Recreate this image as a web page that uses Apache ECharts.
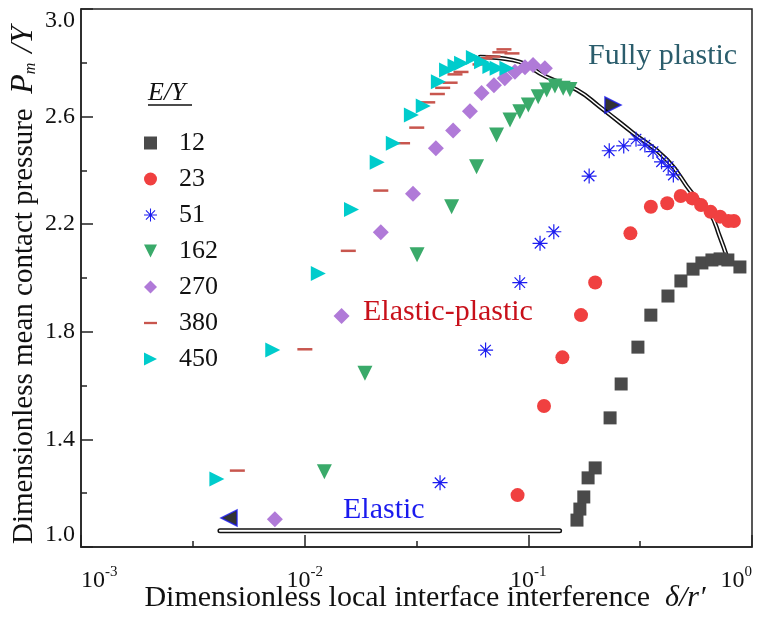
<!DOCTYPE html>
<html>
<head>
<meta charset="utf-8">
<script src="https://cdn.jsdelivr.net/npm/echarts@6/dist/echarts.min.js"></script>
<style>
  html, body { margin: 0; padding: 0; background: #fff; }
  #chart { width: 759px; height: 617px; }
</style>
</head>
<body>
<div id="chart"></div>
<script>
// 数据 (δ/r', Pm/Y)
const seriesNames = ['12', '23', '51', '162', '270', '380', '450'];
const ey12 = [[0.165, 1.100], [0.170, 1.141], [0.177, 1.186], [0.185, 1.257], [0.199, 1.294], [0.232, 1.480],
    [0.260, 1.606], [0.309, 1.743], [0.353, 1.862], [0.421, 1.933], [0.481, 1.989], [0.545, 2.033],
    [0.597, 2.056], [0.662, 2.067], [0.720, 2.071], [0.780, 2.067], [0.883, 2.041]];
const ey23 = [[0.0895, 1.193], [0.1175, 1.524], [0.142, 1.705], [0.172, 1.862], [0.199, 1.983], [0.286, 2.166],
    [0.353, 2.265], [0.418, 2.278], [0.480, 2.305], [0.541, 2.296], [0.592, 2.271], [0.653, 2.246],
    [0.720, 2.228], [0.784, 2.212], [0.830, 2.212]];
const ey51 = [[0.0403, 1.239], [0.0644, 1.732], [0.0916, 1.983], [0.1128, 2.129], [0.130, 2.172], [0.187, 2.379],
    [0.230, 2.473], [0.267, 2.491], [0.303, 2.516], [0.332, 2.494], [0.361, 2.470], [0.394, 2.432],
    [0.422, 2.414], [0.445, 2.383]];
const ey162 = [[0.01225, 1.280], [0.0186, 1.646], [0.0318, 2.086], [0.0454, 2.265], [0.0587, 2.414], [0.0721, 2.532],
    [0.0828, 2.587], [0.0916, 2.618], [0.100, 2.643], [0.1107, 2.674], [0.1208, 2.699], [0.1315, 2.714],
    [0.1432, 2.705], [0.1535, 2.701]];
const ey270 = [[0.00736, 1.103], [0.01462, 1.859], [0.0219, 2.170], [0.0305, 2.313], [0.0386, 2.482], [0.0461, 2.548],
    [0.0548, 2.620], [0.0618, 2.688], [0.0702, 2.717], [0.0785, 2.743], [0.0871, 2.767], [0.0966, 2.783],
    [0.105, 2.792], [0.1186, 2.780]];
const ey380 = [[0.00500, 1.284], [0.01002, 1.735], [0.01567, 2.101], [0.0219, 2.325], [0.0274, 2.501], [0.0317, 2.559],
    [0.0355, 2.653], [0.0392, 2.684], [0.0414, 2.707], [0.0447, 2.726], [0.0470, 2.757], [0.0500, 2.766],
    [0.0608, 2.794], [0.0640, 2.817], [0.0695, 2.823], [0.0746, 2.839], [0.0778, 2.850], [0.0845, 2.835]];
const ey450 = [[0.00405, 1.253], [0.00720, 1.732], [0.01151, 2.017], [0.0162, 2.255], [0.0211, 2.430], [0.0249, 2.501],
    [0.0300, 2.606], [0.0339, 2.639], [0.0396, 2.730], [0.0431, 2.773], [0.0470, 2.788], [0.0503, 2.798],
    [0.0568, 2.820], [0.0618, 2.804], [0.0673, 2.786], [0.0725, 2.780], [0.0802, 2.780]];

// 拟合曲线
const plasticX = [0.0608, 0.0853, 0.121, 0.165, 0.209, 0.294, 0.417, 0.539, 0.648, 0.719, 0.773];
const plasticY = [2.822, 2.810, 2.747, 2.699, 2.636, 2.539, 2.439, 2.316, 2.242, 2.152, 2.078];
const elasticX = [0.00418, 0.138];
const elasticY = [1.06, 1.06];
const endLeft = [0.00459, 1.108];
const endRight = [0.239, 2.643];

const FONT = 'Liberation Serif';
const asterisk = 'path://M9.2 0H10.8V20H9.2Z M0 9.2H20V10.8H0Z M3.57 2.43L17.57 16.43L16.43 17.57L2.43 3.57Z M17.57 3.57L3.57 17.57L2.43 16.43L16.43 2.43Z';
const dash = 'path://M0 0H14V2.5H0Z';
const triDown = 'path://M0 0H10L5 10Z';
const triRight = 'path://M0 0L10 5L0 10Z';

function zip(xs, ys) {
    return xs.map((x, i) => [x, ys[i]]);
}

function scatter(name, data, symbol, size, color, rotate) {
    return {
        name: name,
        type: 'scatter',
        data: data,
        symbol: symbol,
        symbolSize: size,
        symbolRotate: rotate || 0,
        itemStyle: { color: color, opacity: 1 },
        z: 5
    };
}

function doubleLine(data, outer, inner) {
    return [
        {
            type: 'line', data: data, smooth: true, symbol: 'none', silent: true, z: 2,
            lineStyle: { color: '#111', width: outer, cap: 'round' }
        },
        {
            type: 'line', data: data, smooth: true, symbol: 'none', silent: true, z: 3,
            lineStyle: { color: '#fff', width: inner, cap: 'round' }
        }
    ];
}

const chart = echarts.init(document.getElementById('chart'));

const option = {
    backgroundColor: '#fff',
    animation: false,
    grid: {
        left: 81, right: 7, top: 9, bottom: 70,
        outerBoundsMode: 'none',
        containLabel: false,
        show: true, borderColor: '#222', borderWidth: 1.5, backgroundColor: 'transparent'
    },
    legend: {
        orient: 'vertical',
        left: 144,
        top: 130,
        padding: 0,
        itemWidth: 13,
        itemHeight: 13,
        itemGap: 10,
        data: [
            { name: '12' }, { name: '23' }, { name: '51' },
            { name: '162', icon: triDown },
            { name: '270' }, { name: '380' },
            { name: '450', icon: triRight }
        ],
        textStyle: {
            fontFamily: FONT, fontSize: 26, lineHeight: 26, color: '#111',
            padding: [0, 0, 0, 17]
        }
    },
    xAxis: [
        {
            type: 'log',
            logBase: 10,
            min: 0.001,
            max: 1,
            position: 'bottom',
            axisLine: { onZero: false, lineStyle: { color: '#222', width: 1.5 } },
            axisTick: { inside: true, length: 12, lineStyle: { color: '#222', width: 1.5 } },
            splitLine: { show: false },
            axisLabel: {
                margin: 18,
                alignMinLabel: 'left',
                alignMaxLabel: 'right',
                formatter: function (v) {
                    const e = Math.round(Math.log10(v));
                    return '{b|10}{s|' + e + '}';
                },
                rich: {
                    b: { fontFamily: FONT, fontSize: 24, color: '#111' },
                    s: { fontFamily: FONT, fontSize: 15, color: '#111', padding: [0, 0, 16, 0] }
                }
            },
            name: 'Dimensionless local interface interference  {i|δ/r′}',
            nameLocation: 'middle',
            nameGap: 36,
            nameMoveOverlap: false,
            nameTextStyle: {
                fontFamily: FONT, fontSize: 30, color: '#111',
                padding: [0, 0, 0, 17],
                rich: {
                    i: { fontFamily: FONT, fontSize: 30, fontStyle: 'italic', color: '#111' }
                }
            }
        },
        {
            // 半个数量级的小刻度
            type: 'value',
            min: -3,
            max: 0,
            interval: 0.5,
            position: 'bottom',
            axisLine: { show: false, onZero: false },
            axisLabel: { show: false },
            splitLine: { show: false },
            axisTick: { inside: true, length: 6, lineStyle: { color: '#222', width: 1.5 } }
        }
    ],
    yAxis: {
        type: 'value',
        min: 1.0,
        max: 3.0,
        interval: 0.4,
        position: 'left',
        axisLine: { show: true, onZero: false, lineStyle: { color: '#222', width: 1.5 } },
        axisTick: { show: true, inside: true, length: 12, lineStyle: { color: '#222', width: 1.5 } },
        minorTick: { show: true, splitNumber: 2, length: 6, lineStyle: { color: '#222', width: 1.5 } },
        splitLine: { show: false },
        axisLabel: {
            margin: 6,
            fontFamily: FONT,
            fontSize: 24,
            color: '#111',
            verticalAlignMinLabel: 'bottom',
            verticalAlignMaxLabel: 'top',
            formatter: function (v) { return v.toFixed(1); }
        },
        name: 'Dimensionless mean contact pressure  {i|P}{s|m}{i| /Y}',
        nameLocation: 'middle',
        nameGap: 41,
        nameMoveOverlap: false,
        nameTextStyle: {
            fontFamily: FONT, fontSize: 29, color: '#111',
            padding: [0, 14, 0, 0],
            rich: {
                i: { fontFamily: FONT, fontSize: 32, fontStyle: 'italic', color: '#111' },
                s: { fontFamily: FONT, fontSize: 16, fontStyle: 'italic', color: '#111', padding: [14, 2, 0, 0] }
            }
        }
    },
    graphic: [
        {
            type: 'text', left: 148, top: 80,
            style: { text: 'E/Y', font: 'italic 26px "Liberation Serif"', fill: '#111' }
        },
        {
            type: 'line', shape: { x1: 148, y1: 105, x2: 192, y2: 105 },
            style: { stroke: '#111', lineWidth: 1.3 }
        },
        {
            type: 'text', left: 588, top: 41,
            style: { text: 'Fully plastic', font: '30px "Liberation Serif"', fill: '#2b5d6c' }
        },
        {
            type: 'text', left: 363, top: 297,
            style: { text: 'Elastic-plastic', font: '30px "Liberation Serif"', fill: '#c8101a' }
        },
        {
            type: 'text', left: 343, top: 495,
            style: { text: 'Elastic', font: '30px "Liberation Serif"', fill: '#1a1aee' }
        }
    ],
    series: [
        ...doubleLine(zip(plasticX, plasticY), 4.5, 1.5),
        ...doubleLine(zip(elasticX, elasticY), 5, 2),
        scatter('12', ey12, 'rect', 13, '#4a4a4a'),
        scatter('23', ey23, 'circle', 14, '#f04040'),
        scatter('51', ey51, asterisk, 15, '#1c1cf0'),
        scatter('162', ey162, 'triangle', 15, '#3aaa6a', 180),
        scatter('270', ey270, 'diamond', 16, '#b07ad8'),
        scatter('380', ey380, dash, [15, 2.5], '#c8564e'),
        scatter('450', ey450, 'triangle', 15, '#00cccc', -90),
        {
            type: 'scatter', data: [endLeft], symbol: 'triangle', symbolSize: 16, symbolRotate: 90, z: 6,
            itemStyle: { color: '#000', borderColor: '#1a1aee', borderWidth: 1.5 }
        },
        {
            type: 'scatter', data: [endRight], symbol: 'triangle', symbolSize: 16, symbolRotate: -90, z: 6,
            itemStyle: { color: '#000', borderColor: '#1a1aee', borderWidth: 1.5 }
        }
    ]
};

chart.setOption(option);
</script>
</body>
</html>
